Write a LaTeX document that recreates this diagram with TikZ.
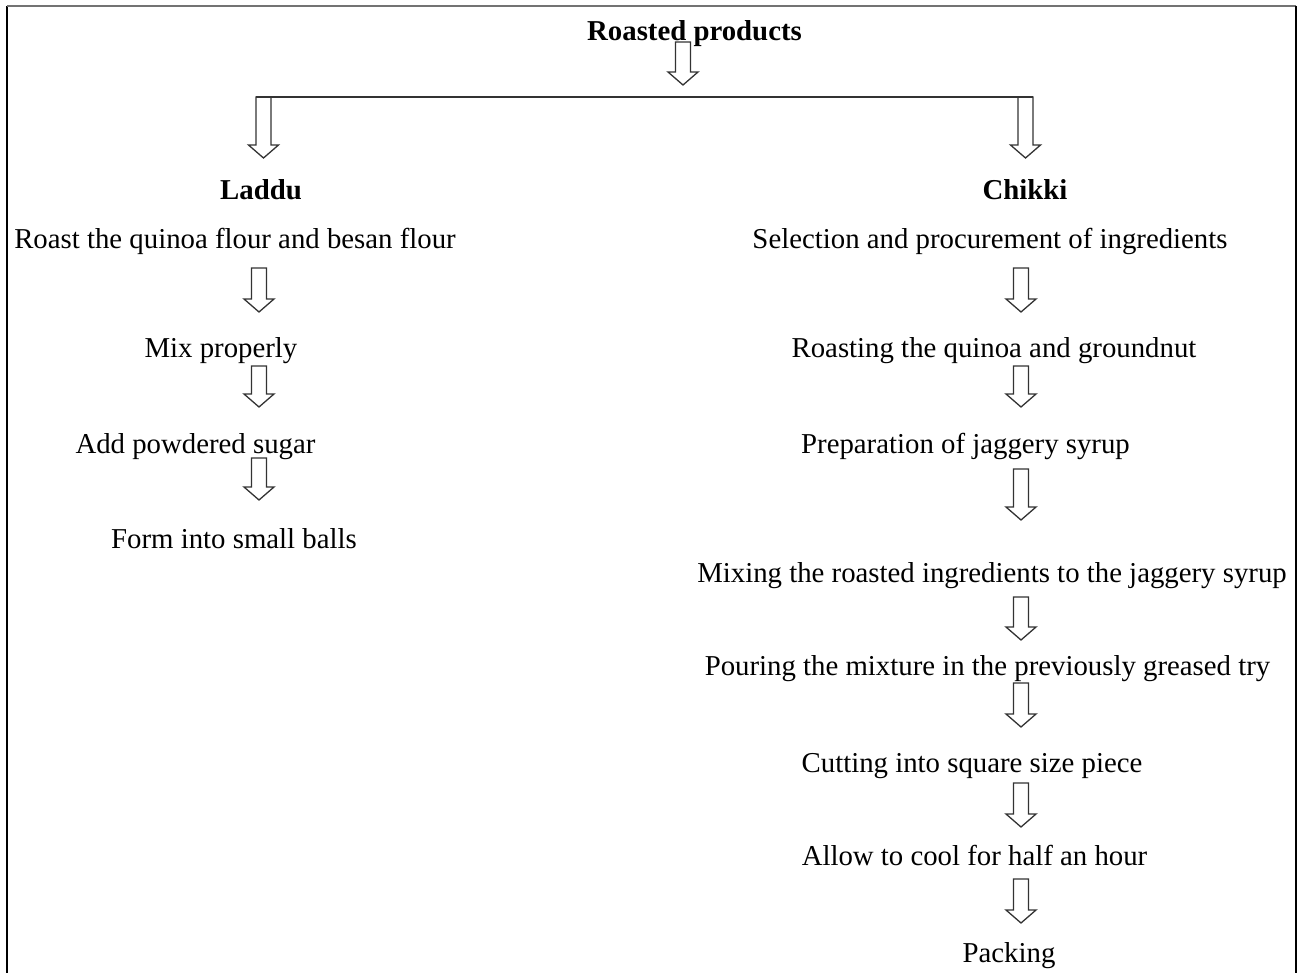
\documentclass[tikz,border=0pt]{standalone}
\usepackage{fontspec}
\setmainfont{Liberation Serif}
\usetikzlibrary{calc}

\begin{document}
\begin{tikzpicture}[x=1pt, y=-1pt,
        stage/.style={font=\fontsize{28.8}{34}\selectfont, inner sep=0pt, anchor=base},
        title/.style={stage, font=\fontsize{28.8}{34}\selectfont\bfseries},
        hollow/.style={draw=black!80, line width=1.3pt, line join=miter,
            to path={let \p1=(\tikztostart), \p2=(\tikztotarget) in
                ({\x1-7.5pt},{\y1}) -- ({\x1-7.5pt},{\y2+13pt}) -- ({\x1-15pt},{\y2+13pt})
                -- ({\x1},{\y2}) -- ({\x1+15pt},{\y2+13pt}) -- ({\x1+7.5pt},{\y2+13pt})
                -- ({\x1+7.5pt},{\y1}) -- cycle}}]
    \useasboundingbox (0,0) rectangle (1298,973);
    % frame
    \draw[line width=1.6pt] (7,973) -- (7,6);
    \draw[line width=2pt, black!55] (7,6) -- (1296,6);
    \draw[line width=2pt] (1296,6) -- (1296,973);

    \node[title] (root) at (694.5,41) {Roasted products};
    \node[title] (laddu) at (261,200) {Laddu};
    \node[title] (chikki) at (1025,200) {Chikki};

    % laddu steps
    \node[stage] (roast) at (235,249) {Roast the quinoa flour and besan flour};
    \node[stage] (mix) at (221,358) {Mix properly};
    \node[stage] (sugar) at (195.5,453) {Add powdered sugar};
    \node[stage] (balls) at (234,548) {Form into small balls};

    % chikki steps
    \node[stage] (select) at (990,249) {Selection and procurement of ingredients};
    \node[stage] (roasting) at (994,358) {Roasting the quinoa and groundnut};
    \node[stage] (syrup) at (965.5,453) {Preparation of jaggery syrup};
    \node[stage] (mixing) at (992,582) {Mixing the roasted ingredients to the jaggery syrup};
    \node[stage] (pour) at (987.5,675) {Pouring the mixture in the previously greased try};
    \node[stage] (cut) at (972,772) {Cutting into square size piece};
    \node[stage] (cool) at (974.5,865) {Allow to cool for half an hour};
    \node[stage] (pack) at (1009,962) {Packing};

    % split
    \coordinate (top) at (683,42);
    \coordinate (topend) at (683,85);
    \coordinate (lfork) at (263.5,97);
    \coordinate (rfork) at (1025.5,97);
    \coordinate (lforkend) at (263.5,158);
    \coordinate (rforkend) at (1025.5,158);
    \draw[hollow] (top) to (topend);
    \draw[line width=1.3pt, black!80] ([xshift=-7.5pt]lfork) -- ([xshift=7.5pt]rfork);
    \draw[hollow] (lfork) to (lforkend);
    \draw[hollow] (rfork) to (rforkend);

    % arrows between steps
    \foreach \k/\ya/\yb in {1/268/312, 2/366/407, 3/458/500} {
        \coordinate (la\k) at (259,\ya);
        \coordinate (lb\k) at (259,\yb);
        \draw[hollow] (la\k) to (lb\k);
    }
    \foreach \k/\ya/\yb in {1/268/312, 2/366/407, 3/469/520, 4/597/640,
                            5/683/727, 6/783/827, 7/879/923} {
        \coordinate (ra\k) at (1021,\ya);
        \coordinate (rb\k) at (1021,\yb);
        \draw[hollow] (ra\k) to (rb\k);
    }
\end{tikzpicture}
\end{document}
